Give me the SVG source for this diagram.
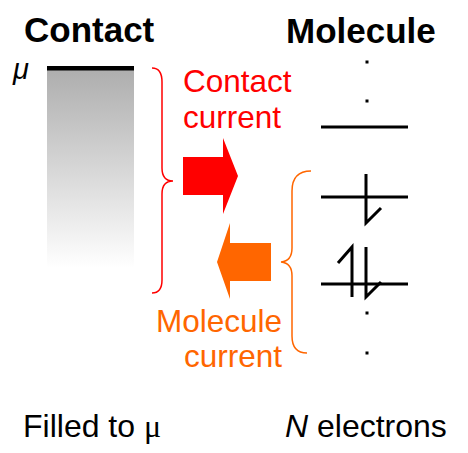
<svg xmlns="http://www.w3.org/2000/svg" width="468" height="453" viewBox="0 0 468 453">
  <defs>
    <linearGradient id="fill" x1="0" y1="0" x2="0" y2="1">
      <stop offset="0" stop-color="#aeaeae"/>
      <stop offset="1" stop-color="#ffffff"/>
    </linearGradient>
  </defs>
  <style>
    text { font-family: "Liberation Sans", Arial, sans-serif; }
    .title { font-size: 35px; font-weight: bold; fill: #000; }
    .lbl { font-size: 31.5px; }
    .bottom { font-size: 32px; }
    .red { fill: #ff0000; }
    .orange { fill: #ff6600; }
    .level { stroke: #000; stroke-width: 3; fill: none; }
    .spin { stroke: #000; stroke-width: 3; fill: none; stroke-linejoin: miter; }
    .dot { fill: #000; }
    .brace { fill: none; stroke-width: 1.5; }
  </style>
  <rect width="468" height="453" fill="#fff"/>

  <g id="contact">
    <text class="title" x="24" y="42">Contact</text>
    <rect x="47" y="70" width="87" height="198" fill="url(#fill)"/>
    <rect x="47" y="66" width="87" height="4.5" fill="#000"/>
    <text x="13" y="79" font-family="Liberation Serif, serif" font-style="italic" font-size="29">μ</text>
    <text class="bottom" x="23" y="437">Filled to <tspan font-family="Liberation Serif, serif">μ</tspan></text>
  </g>

  <g id="molecule">
    <text class="title" x="286" y="43">Molecule</text>
    <rect class="dot" x="365.5" y="60.5" width="3" height="3"/>
    <rect class="dot" x="365.5" y="99.5" width="3" height="3"/>
    <line class="level" x1="321" y1="127" x2="408" y2="127"/>
    <line class="level" x1="321" y1="197" x2="408" y2="197"/>
    <path class="spin" d="M366,174 L366,223 L381,208"/>
    <line class="level" x1="321" y1="284" x2="408" y2="284"/>
    <path class="spin" d="M338,263 L352,247 L352,297"/>
    <path class="spin" d="M366,247 L366,297 L381,282"/>
    <rect class="dot" x="365.5" y="311.5" width="3" height="3"/>
    <rect class="dot" x="365.5" y="351.5" width="3" height="3"/>
    <text class="bottom" x="285" y="437"><tspan font-style="italic">N</tspan> electrons</text>
  </g>

  <g id="contact-current">
    <path class="brace" stroke="#ff0000" d="M152,68 Q162,68 162,82 L162,168 Q162,181 173,181 Q162,181 162,194 L162,280 Q162,293 152,293"/>
    <text class="lbl red" x="183" y="92">Contact</text>
    <text class="lbl red" x="183" y="128">current</text>
  </g>

  <g id="molecule-current">
    <path class="brace" stroke="#ff6600" d="M311,171 Q292,171 292,191 L292,248 Q292,261 281,262 Q292,263 292,276 L292,336 Q292,353 307,353"/>
    <text class="lbl orange" x="282" y="332" text-anchor="end">Molecule</text>
    <text class="lbl orange" x="282" y="367" text-anchor="end">current</text>
  </g>

  <g id="connectors">
    <polygon fill="#ff0000" points="183,157 223,157 223,138 238,176 223,214 223,195 183,195"/>
    <polygon fill="#ff6600" points="271,243 230,243 230,223 217,262 230,299 230,281 271,281"/>
  </g>
</svg>
